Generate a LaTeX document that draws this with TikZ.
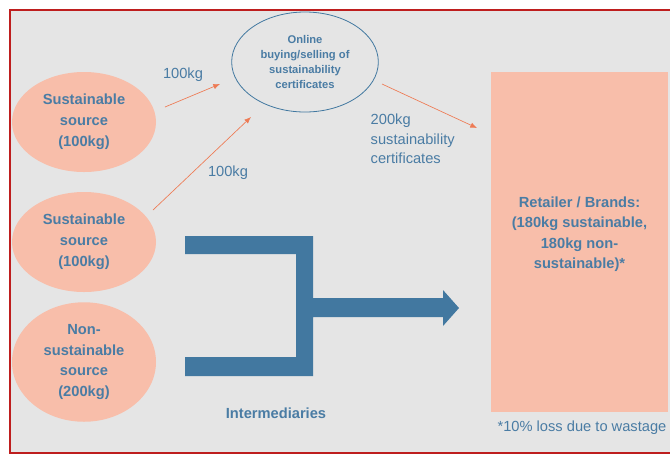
\documentclass[tikz,border=0pt]{standalone}
\usepackage{fontspec}
\setmainfont{Liberation Sans}
\usetikzlibrary{shapes.geometric,arrows.meta}

\definecolor{panelgray}{RGB}{229,229,229}
\definecolor{frame}{RGB}{190,30,30}
\definecolor{salmon}{RGB}{248,190,170}
\definecolor{steel}{RGB}{66,120,160}
\definecolor{txtblue}{RGB}{74,124,164}
\definecolor{flow}{RGB}{238,122,84}

\begin{document}
\begin{tikzpicture}[x=0.75pt,y=-0.75pt,
		source/.style={ellipse,fill=salmon,minimum width=108pt,minimum height=75pt,
			align=center,text=txtblue,font=\fontsize{11}{15.6}\selectfont\bfseries},
		market/.style={ellipse,draw=steel,line width=0.6pt,minimum width=110pt,minimum height=75pt,
			align=center,text=txtblue,font=\fontsize{8.4}{11.3}\selectfont\bfseries},
		label/.style={text=txtblue,font=\fontsize{11}{14.6}\selectfont},
		certflow/.style={draw=flow,line width=0.5pt,-{Latex[length=5pt,width=4pt]}}]

				\useasboundingbox (0,0) rectangle (670,455);
				\fill[white] (0,0) rectangle (670,455);
				\draw[frame,fill=panelgray,line width=1.2pt] (10,10) rectangle (680,453);

				% sources
				\node[source] (src1) at (84,122) {Sustainable\\source\\(100kg)};
				\node[source] (src2) at (84,242) {Sustainable\\source\\(100kg)};
				\node[source] (src3) at (84,362) {Non-\\sustainable\\source\\(200kg)};

				% certificate market
				\node[market] (online) at (305,62) {Online\\buying/selling of\\sustainability\\certificates};

				% retailer
				\node[fill=salmon,minimum width=132.75pt,minimum height=255pt,inner sep=0pt] (retail) at (579.5,242) {};
				\node[text=txtblue,align=center,font=\fontsize{11}{15.4}\selectfont\bfseries] (retailtext) at (579.5,234)
					{Retailer / Brands:\\(180kg sustainable,\\180kg non-\\sustainable)*};
				\node[label] (loss) at (582,428) {*10\% loss due to wastage};

				% intermediaries
				\fill[steel] (185,236) -- (313,236) -- (313,298) -- (443,298) -- (443,290) -- (459,308)
					-- (443,326) -- (443,317) -- (313,317) -- (313,376) -- (185,376) -- (185,357)
					-- (296,357) -- (296,254) -- (185,254) -- cycle;
				\node[text=txtblue,font=\fontsize{11}{14}\selectfont\bfseries] (inter) at (276,413) {Intermediaries};

				% certificate flows
				\coordinate (c1s) at (165,107);
				\coordinate (c1e) at (220,84);
				\coordinate (c2s) at (153,210);
				\coordinate (c2e) at (251,117);
				\coordinate (c3s) at (382,84);
				\coordinate (c3e) at (477,128);
				\draw[certflow] (c1s) -- (c1e);
				\draw[certflow] (c2s) -- (c2e);
				\draw[certflow] (c3s) -- (c3e);
				\node[label] (kg1) at (183,75) {100kg};
				\node[label] (kg2) at (228,173) {100kg};
				\node[label,align=left,anchor=west] (kg3) at (366,139) {200kg\\sustainability\\certificates};
			\end{tikzpicture}
\end{document}
